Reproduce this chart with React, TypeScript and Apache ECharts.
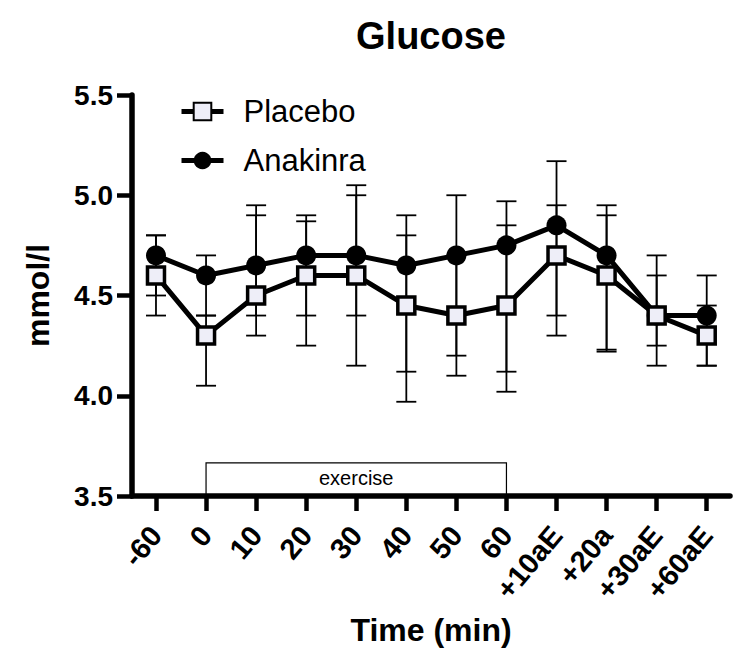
import React, { useEffect, useRef } from "react";
import * as echarts from "echarts";

const categories = ["-60", "0", "10", "20", "30", "40", "50", "60", "+10aE", "+20a", "+30aE", "+60aE"];
const placebo = [4.6, 4.3, 4.5, 4.6, 4.6, 4.45, 4.4, 4.45, 4.7, 4.6, 4.4, 4.3];
const anakinra = [4.7, 4.6, 4.65, 4.7, 4.7, 4.65, 4.7, 4.75, 4.85, 4.7, 4.4, 4.4];
const placeboLow = [4.4, 4.05, 4.3, 4.25, 4.15, 3.97, 4.1, 4.02, 4.4, 4.22, 4.25, 4.15];
const placeboHigh = [4.8, 4.4, 4.9, 4.87, 5.05, 4.8, 4.7, 4.85, 4.95, 4.9, 4.6, 4.45];
const anakinraLow = [4.5, 4.4, 4.4, 4.4, 4.4, 4.12, 4.2, 4.12, 4.3, 4.23, 4.15, 4.15];
const anakinraHigh = [4.8, 4.7, 4.95, 4.9, 5.0, 4.9, 5.0, 4.97, 5.17, 4.95, 4.7, 4.6];
const yTicks = [3.5, 4.0, 4.5, 5.0, 5.5];
// exercise period: from category "0" to category "60", box top value
const exercise = { from: 1, to: 7, top: 3.665, label: "exercise" };

const FONT = "'Liberation Sans', Arial, Helvetica, sans-serif";

export default function App() {
  const ref = useRef<HTMLDivElement>(null);
  useEffect(() => {
    document.body.style.margin = "0";
    const chart = echarts.init(ref.current!, null, { renderer: "svg" });
    const idx = categories.map((_, i) => i);

    const errRender = (params: any, api: any) => {
      const x = api.value(0);
      const lo = api.coord([x, api.value(1)]);
      const hi = api.coord([x, api.value(2)]);
      const w = 10;
      const style = { stroke: "#000", lineWidth: 1.8 };
      return {
        type: "group",
        children: [
          { type: "line", shape: { x1: lo[0], y1: lo[1], x2: hi[0], y2: hi[1] }, style },
          { type: "line", shape: { x1: lo[0] - w, y1: lo[1], x2: lo[0] + w, y2: lo[1] }, style },
          { type: "line", shape: { x1: hi[0] - w, y1: hi[1], x2: hi[0] + w, y2: hi[1] }, style },
        ],
      };
    };

    const option: any = {
      animation: false,
      backgroundColor: "#fff",
      textStyle: { fontFamily: FONT },
      title: {
        text: "Glucose",
        left: 426,
        textAlign: "center",
        top: 12,
        textStyle: { fontFamily: FONT, fontSize: 38, fontWeight: "bold", color: "#000" },
      },
      legend: {
        orient: "vertical",
        left: 174,
        top: 91,
        itemWidth: 42,
        itemHeight: 22,
        itemGap: 18,
        data: ["Placebo", "Anakinra"],
        lineStyle: { color: "#000", width: 5 },
        textStyle: { fontFamily: FONT, fontSize: 31, color: "#000", padding: [0, 0, 0, 15] },
      },
      grid: { left: 132, right: 20, top: 95, bottom: 171 },
      xAxis: {
        type: "value",
        min: -0.479,
        max: 11.465,
        name: "Time (min)",
        nameLocation: "middle",
        nameGap: 118,
        nameTextStyle: { fontFamily: FONT, fontSize: 32, fontWeight: "bold", color: "#000" },
        axisLine: { show: true, onZero: false, lineStyle: { color: "#000", width: 5.5 } },
        axisTick: { show: true, customValues: idx, length: 15, lineStyle: { color: "#000", width: 4.5 } },
        axisLabel: {
          customValues: idx,
          formatter: (v: number) => categories[Math.round(v)] ?? "",
          rotate: 50,
          margin: 34,
          fontFamily: FONT,
          fontSize: 29,
          fontWeight: "bold",
          color: "#000",
        },
        splitLine: { show: false },
      },
      yAxis: {
        type: "value",
        min: 3.5,
        max: 5.5,
        interval: 0.5,
        name: "mmol/l",
        nameLocation: "middle",
        nameRotate: 90,
        nameGap: 78,
        nameTextStyle: { fontFamily: FONT, fontSize: 32, fontWeight: "bold", color: "#000" },
        axisLine: { show: true, onZero: false, lineStyle: { color: "#000", width: 5.5 } },
        axisTick: { show: true, customValues: yTicks, length: 15, lineStyle: { color: "#000", width: 4.5 } },
        axisLabel: {
          customValues: yTicks,
          formatter: (v: number) => v.toFixed(1),
          margin: 19,
          fontFamily: FONT,
          fontSize: 28,
          fontWeight: "bold",
          color: "#000",
        },
        splitLine: { show: false },
      },
      series: [
        {
          type: "custom",
          name: "exerciseBox",
          silent: true,
          z: 1,
          renderItem: (params: any, api: any) => {
            const p0 = api.coord([api.value(0), 3.5]);
            const p1 = api.coord([api.value(1), api.value(2)]);
            return {
              type: "group",
              children: [
                {
                  type: "rect",
                  shape: { x: p0[0], y: p1[1], width: p1[0] - p0[0], height: p0[1] - p1[1] },
                  style: { fill: "none", stroke: "#000", lineWidth: 1.2 },
                },
                {
                  type: "text",
                  style: {
                    text: exercise.label,
                    x: (p0[0] + p1[0]) / 2,
                    y: (p0[1] + p1[1]) / 2 - 1,
                    align: "center",
                    verticalAlign: "middle",
                    font: `20px ${FONT}`,
                    fill: "#000",
                  },
                },
              ],
            };
          },
          data: [[exercise.from, exercise.to, exercise.top]],
        },
        {
          type: "custom",
          name: "errA",
          silent: true,
          z: 1,
          renderItem: errRender,
          data: idx.map((i) => [i, anakinraLow[i], anakinraHigh[i]]),
        },
        {
          type: "custom",
          name: "errP",
          silent: true,
          z: 1,
          renderItem: errRender,
          data: idx.map((i) => [i, placeboLow[i], placeboHigh[i]]),
        },
        {
          type: "line",
          name: "Anakinra",
          z: 3,
          data: idx.map((i) => [i, anakinra[i]]),
          symbol: "circle",
          symbolSize: 20,
          itemStyle: { color: "#000" },
          lineStyle: { color: "#000", width: 5 },
        },
        {
          type: "line",
          name: "Placebo",
          z: 4,
          data: idx.map((i) => [i, placebo[i]]),
          symbol: "rect",
          symbolSize: 17,
          itemStyle: { color: "#eeeef8", borderColor: "#000", borderWidth: 3.5 },
          lineStyle: { color: "#000", width: 5 },
        },
      ],
    };
    chart.setOption(option);
    return () => chart.dispose();
  }, []);
  return <div ref={ref} style={{ width: 750, height: 667 }} />;
}
